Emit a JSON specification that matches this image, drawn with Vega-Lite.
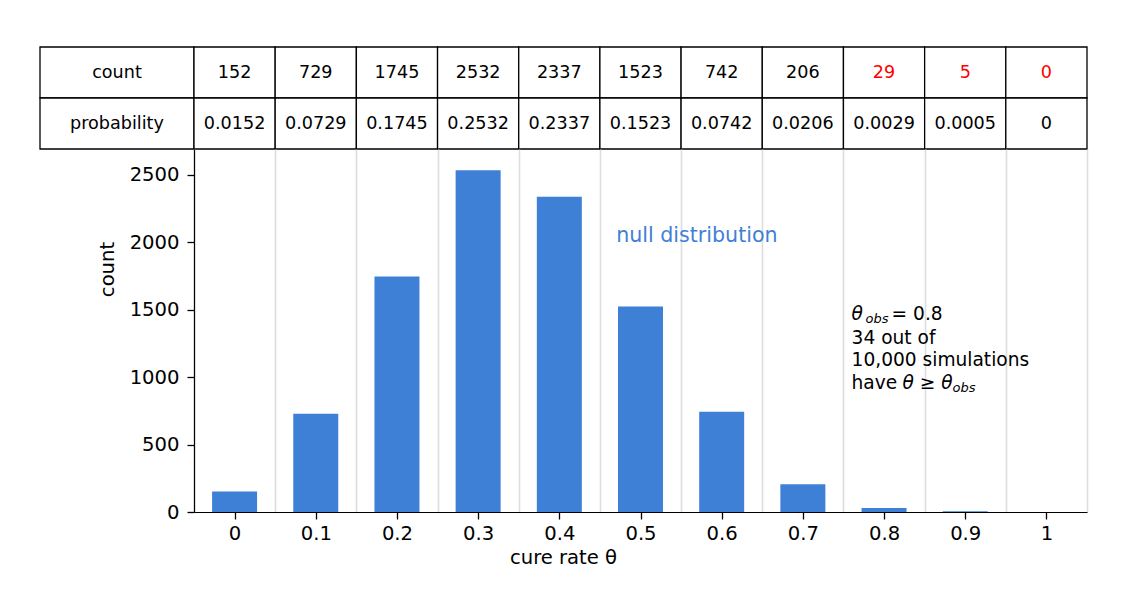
{
  "$schema": "https://vega.github.io/schema/vega-lite/v6.json",
  "padding": {"left": 39, "top": 46, "right": 10, "bottom": 10},
  "config": {
    "font": "DejaVu Sans",
    "view": {"stroke": null},
    "axis": {
      "labelColor": "black",
      "titleColor": "black",
      "titleFontWeight": "normal",
      "labelFontSize": 19.6,
      "titleFontSize": 19.6,
      "domainColor": "black",
      "domainWidth": 1.2,
      "tickColor": "black",
      "tickWidth": 1.3,
      "tickSize": 7
    }
  },
  "datasets": {
    "sims": [
      {"theta": 0, "count": 152, "probability": 0.0152},
      {"theta": 0.1, "count": 729, "probability": 0.0729},
      {"theta": 0.2, "count": 1745, "probability": 0.1745},
      {"theta": 0.3, "count": 2532, "probability": 0.2532},
      {"theta": 0.4, "count": 2337, "probability": 0.2337},
      {"theta": 0.5, "count": 1523, "probability": 0.1523},
      {"theta": 0.6, "count": 742, "probability": 0.0742},
      {"theta": 0.7, "count": 206, "probability": 0.0206},
      {"theta": 0.8, "count": 29, "probability": 0.0029},
      {"theta": 0.9, "count": 5, "probability": 0.0005},
      {"theta": 1, "count": 0, "probability": 0}
    ]
  },
  "columns": 2,
  "spacing": 0,
  "bounds": "flush",
  "concat": [
    {
      "width": 154,
      "height": 102,
      "data": {"values": [{"row": "count"}, {"row": "probability"}]},
      "encoding": {
        "x": {"datum": "label", "type": "nominal", "axis": null,
              "scale": {"paddingInner": 0, "paddingOuter": 0}},
        "y": {"field": "row", "type": "nominal", "sort": ["count", "probability"], "axis": null,
              "scale": {"paddingInner": 0, "paddingOuter": 0}}
      },
      "layer": [
        {"mark": {"type": "rect", "fill": "white", "stroke": "black", "strokeWidth": 1.3}},
        {"mark": {"type": "text", "fontSize": 17.6, "color": "black"},
         "encoding": {"text": {"field": "row", "type": "nominal"}}}
      ]
    },
    {
      "width": 893,
      "height": 102,
      "data": {"name": "sims"},
      "transform": [{"fold": ["count", "probability"], "as": ["row", "value"]}],
      "encoding": {
        "x": {"field": "theta", "type": "ordinal", "axis": null,
              "scale": {"paddingInner": 0, "paddingOuter": 0}},
        "y": {"field": "row", "type": "nominal", "sort": ["count", "probability"], "axis": null,
              "scale": {"paddingInner": 0, "paddingOuter": 0}}
      },
      "layer": [
        {"mark": {"type": "rect", "fill": "white", "stroke": "black", "strokeWidth": 1.3}},
        {"mark": {"type": "text", "fontSize": 17.6},
         "encoding": {
           "text": {"field": "value", "type": "nominal"},
           "color": {
             "condition": {"test": "datum.row === 'count' && datum.theta >= 0.8", "value": "#ff0000"},
             "value": "black"
           }
         }}
      ]
    },
    {
      "width": 154,
      "height": 363,
      "data": {"values": [{}]},
      "mark": {"type": "text"},
      "encoding": {"text": {"value": ""}}
    },
    {
      "width": 893,
      "height": 363,
      "resolve": {"axis": {"x": "independent"}},
      "layer": [
        {
          "data": {"name": "sims"},
          "mark": {"type": "bar", "size": 45, "color": "#3f80d7"},
          "encoding": {
            "x": {
              "field": "theta", "type": "quantitative",
              "scale": {"domain": [-0.05, 1.05], "nice": false, "zero": false, "padding": 0},
              "axis": {
                "orient": "bottom",
                "values": [0, 0.1, 0.2, 0.3, 0.4, 0.5, 0.6, 0.7, 0.8, 0.9, 1],
                "format": "~g", "grid": false, "labelPadding": 5,
                "title": "cure rate θ", "titleX": 369, "titlePadding": 6
              }
            },
            "y": {
              "field": "count", "type": "quantitative",
              "scale": {"domain": [0, 2690], "nice": false},
              "axis": {
                "orient": "left",
                "values": [0, 500, 1000, 1500, 2000, 2500], "format": "d",
                "grid": false, "labelPadding": 8,
                "title": "count", "titleY": 120, "titlePadding": 12
              }
            }
          }
        },
        {
          "data": {"values": [{}]},
          "mark": {"type": "text", "align": "left", "baseline": "alphabetic", "fontSize": 20.6, "color": "#3f80d7"},
          "encoding": {
            "x": {
              "datum": 0.47, "type": "quantitative",
              "axis": {
                "orient": "top",
                "values": [-0.05, 0.05, 0.15, 0.25, 0.35, 0.45, 0.55, 0.65, 0.75, 0.85, 0.95, 1.05],
                "grid": true, "gridColor": "#dddddd", "gridWidth": 1.6,
                "labels": false, "ticks": false, "domain": false, "title": null
              }
            },
            "y": {"datum": 2000, "type": "quantitative"},
            "text": {"value": "null distribution"}
          }
        },
        {
          "data": {"values": [{}]},
          "mark": {"type": "text", "align": "left", "baseline": "alphabetic", "fontSize": 18.6, "fontStyle": "italic", "color": "black"},
          "encoding": {
            "x": {"datum": 0.76, "type": "quantitative", "axis": null},
            "y": {"datum": 1422, "type": "quantitative"},
            "text": {"value": "θ"}
          }
        },
        {
          "data": {"values": [{}]},
          "mark": {"type": "text", "align": "left", "baseline": "alphabetic", "fontSize": 13, "fontStyle": "italic", "dx": 14, "dy": 3, "color": "black"},
          "encoding": {
            "x": {"datum": 0.76, "type": "quantitative", "axis": null},
            "y": {"datum": 1422, "type": "quantitative"},
            "text": {"value": "obs"}
          }
        },
        {
          "data": {"values": [{}]},
          "mark": {"type": "text", "align": "left", "baseline": "alphabetic", "fontSize": 18.6, "dx": 40, "color": "black"},
          "encoding": {
            "x": {"datum": 0.76, "type": "quantitative", "axis": null},
            "y": {"datum": 1422, "type": "quantitative"},
            "text": {"value": "= 0.8"}
          }
        },
        {
          "data": {"values": [{}]},
          "mark": {"type": "text", "align": "left", "baseline": "alphabetic", "fontSize": 18.6, "color": "black"},
          "encoding": {
            "x": {"datum": 0.76, "type": "quantitative", "axis": null},
            "y": {"datum": 1248, "type": "quantitative"},
            "text": {"value": "34 out of"}
          }
        },
        {
          "data": {"values": [{}]},
          "mark": {"type": "text", "align": "left", "baseline": "alphabetic", "fontSize": 18.6, "color": "black"},
          "encoding": {
            "x": {"datum": 0.76, "type": "quantitative", "axis": null},
            "y": {"datum": 1083, "type": "quantitative"},
            "text": {"value": "10,000 simulations"}
          }
        },
        {
          "data": {"values": [{}]},
          "mark": {"type": "text", "align": "left", "baseline": "alphabetic", "fontSize": 18.6, "color": "black"},
          "encoding": {
            "x": {"datum": 0.76, "type": "quantitative", "axis": null},
            "y": {"datum": 908, "type": "quantitative"},
            "text": {"value": "have"}
          }
        },
        {
          "data": {"values": [{}]},
          "mark": {"type": "text", "align": "left", "baseline": "alphabetic", "fontSize": 18.6, "fontStyle": "italic", "dx": 51, "color": "black"},
          "encoding": {
            "x": {"datum": 0.76, "type": "quantitative", "axis": null},
            "y": {"datum": 908, "type": "quantitative"},
            "text": {"value": "θ ≥ θ"}
          }
        },
        {
          "data": {"values": [{}]},
          "mark": {"type": "text", "align": "left", "baseline": "alphabetic", "fontSize": 13, "fontStyle": "italic", "dx": 101, "dy": 3, "color": "black"},
          "encoding": {
            "x": {"datum": 0.76, "type": "quantitative", "axis": null},
            "y": {"datum": 908, "type": "quantitative"},
            "text": {"value": "obs"}
          }
        }
      ]
    }
  ]
}
